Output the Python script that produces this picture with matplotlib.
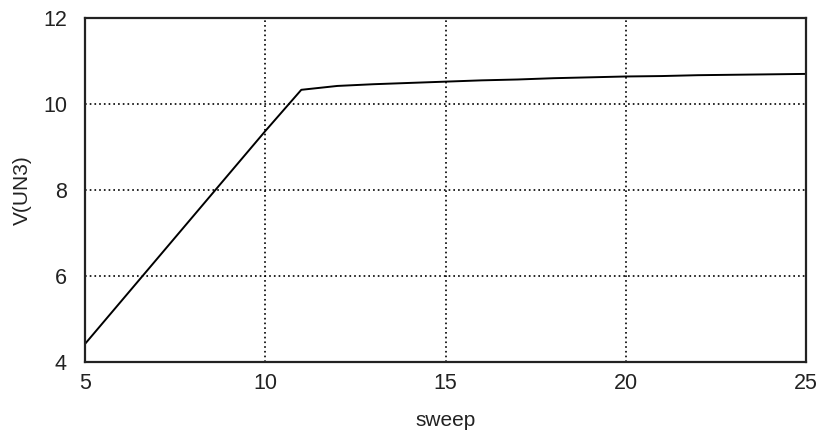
import matplotlib
matplotlib.use("Agg")
import matplotlib.pyplot as plt

sweep = [5, 6, 7, 8, 9, 10, 11, 12, 13, 14, 15, 16, 17, 18, 19, 20, 21, 22, 23, 24, 25]
v_un3 = [4.42, 5.41, 6.40, 7.39, 8.38, 9.37, 10.33, 10.42, 10.46, 10.49, 10.52, 10.55,
         10.57, 10.60, 10.62, 10.64, 10.65, 10.67, 10.68, 10.69, 10.70]
xticks = [5, 10, 15, 20, 25]
yticks = [4, 6, 8, 10, 12]

plt.rcParams['font.family'] = ['Liberation Sans', 'DejaVu Sans']
plt.rcParams['lines.scale_dashes'] = False

fig = plt.figure(figsize=(8.18, 4.32), dpi=100)
ax = fig.add_axes([85/818, 1-362/432, (806-85)/818, (362-18)/432])
ax.plot(sweep, v_un3, color='black', lw=1.4)
ax.set_xlim(5, 25)
ax.set_ylim(4, 12)
ax.set_xticks(xticks)
ax.set_yticks(yticks)
ax.grid(True, color='black', linestyle=(0, (1.2, 2.2)), linewidth=1.2)
for s in ax.spines.values():
    s.set_linewidth(1.6)
    s.set_color('#222222')
ax.tick_params(axis='both', length=0, labelsize=15.5, colors='#222222')
ax.tick_params(axis='y', pad=13)
ax.tick_params(axis='x', pad=8)
ax.set_xlabel('sweep', fontsize=15, labelpad=12, color='#222222')
ax.set_ylabel('V(UN3)', fontsize=15, labelpad=8, color='#222222')
fig.savefig('out.png', dpi=100)
